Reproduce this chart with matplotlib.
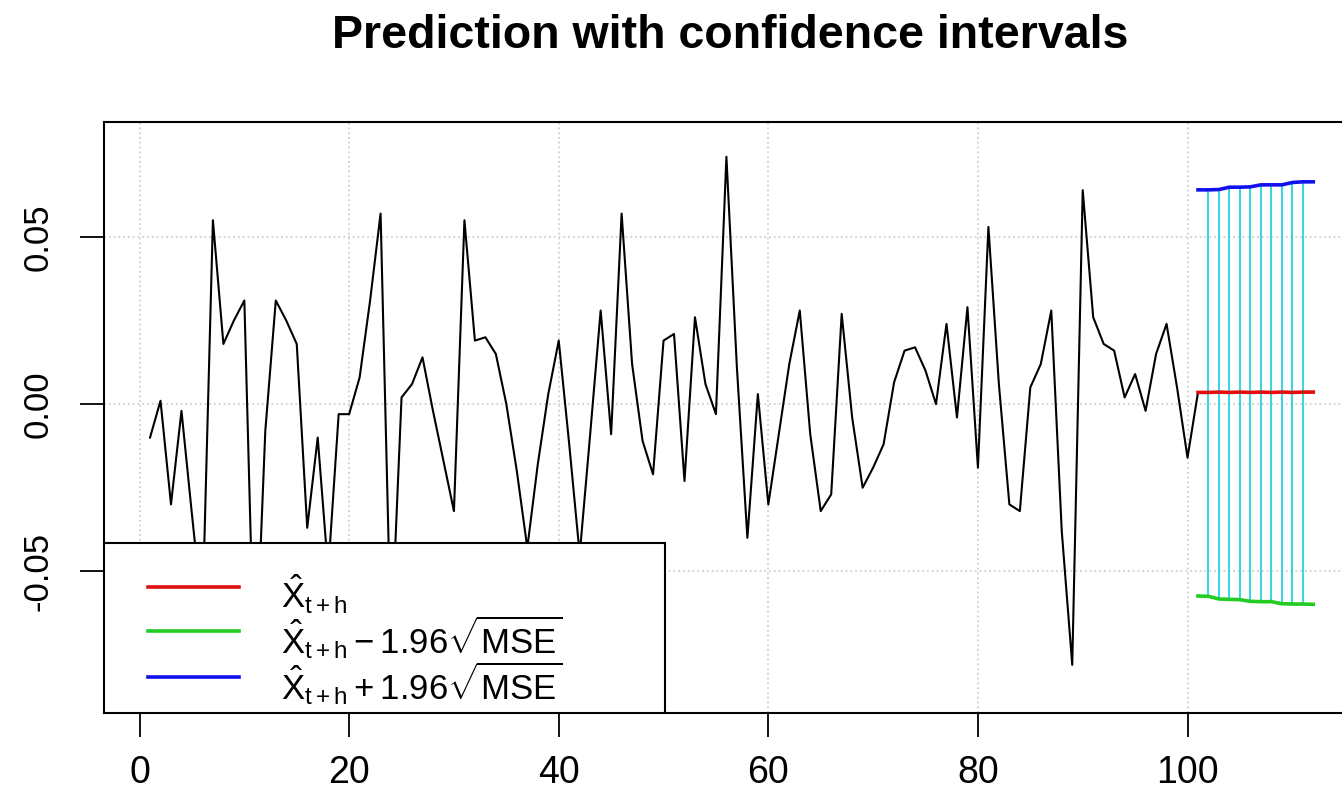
import matplotlib
matplotlib.use("Agg")
import matplotlib.pyplot as plt
from matplotlib.patches import Rectangle
from matplotlib.lines import Line2D

plt.rcParams['font.family'] = ['Liberation Sans', 'DejaVu Sans']
plt.rcParams['mathtext.fontset'] = 'custom'
plt.rcParams['mathtext.rm'] = 'Liberation Sans'
plt.rcParams['mathtext.it'] = 'Liberation Sans:italic'
plt.rcParams['mathtext.bf'] = 'Liberation Sans:bold'

# observed series, t = 1..100
series = [
    -0.010, 0.001, -0.030, -0.002, -0.033, -0.063, 0.055, 0.018, 0.025, 0.031,
    -0.086, -0.008, 0.031, 0.025, 0.018, -0.037, -0.010, -0.050, -0.003, -0.003,
    0.008, 0.031, 0.057, -0.072, 0.002, 0.006, 0.014, -0.002, -0.017, -0.032,
    0.055, 0.019, 0.020, 0.015, 0.000, -0.020, -0.043, -0.018, 0.003, 0.019,
    -0.012, -0.045, -0.009, 0.028, -0.009, 0.057, 0.012, -0.011, -0.021, 0.019,
    0.021, -0.023, 0.026, 0.006, -0.003, 0.074, 0.011, -0.040, 0.003, -0.030,
    -0.009, 0.012, 0.028, -0.009, -0.032, -0.027, 0.027, -0.004, -0.025, -0.019,
    -0.012, 0.0065, 0.016, 0.017, 0.010, 0.000, 0.024, -0.004, 0.029, -0.019,
    0.053, 0.006, -0.030, -0.032, 0.005, 0.012, 0.028, -0.038, -0.078, 0.064,
    0.026, 0.018, 0.016, 0.002, 0.009, -0.002, 0.015, 0.024, 0.005, -0.016,
]

# forecasts, t = 101..112
pred = [0.0035, 0.0035, 0.0036, 0.0035, 0.0036, 0.0035,
        0.0036, 0.0035, 0.0036, 0.0035, 0.0036, 0.0036]
upper = [0.0641, 0.0641, 0.0642, 0.0649, 0.0649, 0.0650,
         0.0656, 0.0656, 0.0656, 0.0663, 0.0665, 0.0665]
lower = [-0.0574, -0.0575, -0.0583, -0.0584, -0.0585, -0.0590,
         -0.0591, -0.0591, -0.0597, -0.0598, -0.0598, -0.0599]

xticks = [0, 20, 40, 60, 80, 100]
yticks = [-0.05, 0.00, 0.05]
ytick_labels = ['-0.05', '0.00', '0.05']
title = 'Prediction with confidence intervals'
legend_labels = [
    r'$\hat{\mathrm{X}}_{\mathrm{t+h}}$',
    r'$\hat{\mathrm{X}}_{\mathrm{t+h}} - 1.96\sqrt{\mathrm{MSE}}$',
    r'$\hat{\mathrm{X}}_{\mathrm{t+h}} + 1.96\sqrt{\mathrm{MSE}}$',
]
legend_colors = ['#DD1111', '#22CC22', '#1111EE']

t_obs = list(range(1, len(series) + 1))
t_pred = list(range(len(series) + 1, len(series) + 1 + len(pred)))

W, H = 1342, 802
fig = plt.figure(figsize=(W / 100, H / 100), dpi=100)
# axes box runs past the right edge of the picture, as in the reference
ax = fig.add_axes([103.5 / W, 89 / H, 1256.3 / W, 591 / H])
ax.set_xlim(-3.44, 116.44)
ax.set_ylim(-0.0924, 0.0844)

for x in xticks:
    ax.axvline(x, color='#D0D0D0', lw=1.3, ls=':', zorder=0)
for y in yticks:
    ax.axhline(y, color='#D0D0D0', lw=1.3, ls=':', zorder=0)

ax.plot(t_obs + t_pred, series + pred, color='black', lw=1.5, zorder=2)

# confidence bars
ax.vlines(t_pred[1:-1], lower[1:-1], upper[1:-1], color='#22D4E0', lw=1.3, zorder=3)
ax.plot(t_pred, pred, color=legend_colors[0], lw=2.6, zorder=4)
ax.plot(t_pred, lower, color=legend_colors[1], lw=2.6, zorder=4)
ax.plot(t_pred, upper, color=legend_colors[2], lw=2.6, zorder=4)

ax.set_xticks(xticks)
ax.set_xticklabels([str(x) for x in xticks])
ax.set_yticks(yticks)
ax.set_yticklabels(ytick_labels, rotation=90, va='center')
ax.tick_params(axis='both', direction='out', length=17, width=1.3)
ax.tick_params(axis='x', pad=13, labelsize=27)
ax.tick_params(axis='y', pad=18, labelsize=25)
for sp in ax.spines.values():
    sp.set_linewidth(1.5)

fig.text(730 / W, 1 - 36 / H, title, ha='center', va='center',
         fontsize=33.5, fontweight='bold')


# legend box drawn in R style, bottom-left corner of the axes
def ax_x(px):
    return (px - 103.5) / 1256.3


def ax_y(py):
    return (713 - py) / 591


ax.add_patch(Rectangle((0, 0), ax_x(665), ax_y(543), transform=ax.transAxes,
                       facecolor='white', edgecolor='black', lw=1.5, zorder=6))
line_y = [587, 631, 677]
text_y = [608, 653, 699]
for lab, col, ly, ty in zip(legend_labels, legend_colors, line_y, text_y):
    ax.add_line(Line2D([ax_x(148), ax_x(239)], [ax_y(ly), ax_y(ly)],
                       transform=ax.transAxes, color=col, lw=2.6, zorder=7))
    ax.text(ax_x(281), ax_y(ty), lab, transform=ax.transAxes, fontsize=25,
            ha='left', va='baseline', zorder=7)

fig.savefig('out.png', dpi=100)
